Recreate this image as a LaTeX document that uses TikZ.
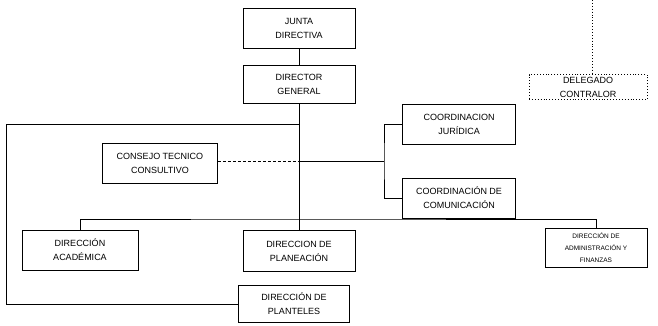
\documentclass[tikz,border=0pt]{standalone}
\usepackage{fontspec}
\setmainfont{Liberation Sans}
\usepackage{tikz}
\usetikzlibrary{positioning}

\begin{document}
\begin{tikzpicture}[x=1pt, y=-1pt,
  box/.style={draw, line width=0.8pt, minimum width=112pt, minimum height=40pt, font=\fontsize{9}{14}\selectfont, align=center, inner sep=1pt},
  ln/.style={line width=0.8pt},
  dsh/.style={line width=0.8pt, dash pattern=on 3pt off 2pt},
  dot/.style={line width=0.9pt, dotted}]
  \useasboundingbox (0,0) rectangle (658,325);
  \node[box] (junta) at (299,28)    {JUNTA\\DIRECTIVA};
  \node[box, minimum height=38pt] (dg) at (299,84) {DIRECTOR\\GENERAL};
  \node[box, minimum width=115pt] (consejo) at (160,163) {CONSEJO TECNICO\\CONSULTIVO};
  \node[box, minimum width=113pt] (jur) at (459,124) {COORDINACION\\JURÍDICA};
  \node[box, minimum width=113pt] (com) at (459,198) {COORDINACIÓN DE\\COMUNICACIÓN};
  \node[box, minimum width=116pt] (acad) at (80,250)  {DIRECCIÓN\\ACADÉMICA};
  \node[box, minimum height=41pt] (plan) at (299,251) {DIRECCION DE\\PLANEACIÓN};
  \node[box, minimum width=111pt, minimum height=37pt] (plant) at (294,304) {DIRECCIÓN DE\\PLANTELES};
  \node[box, minimum width=102pt, minimum height=39pt, font=\fontsize{6.5}{12}\selectfont] (adm) at (596,248) {DIRECCIÓN DE\\ADMINISTRACIÓN Y\\FINANZAS};
  \node[box, dot, minimum width=118pt, minimum height=25pt] (deleg) at (588,87) {DELEGADO\\CONTRALOR};
  \coordinate (dtop) at (592,0);
  \coordinate (brk) at (384,161);
  \coordinate (bar) at (0,219);
  \draw[ln] (junta) -- (dg);
  \draw[ln] (dg.south) -- (plan.north);
  \draw[ln] (dg.south |- 0,124) -| (6,124) |- (plant.west);
  \draw[dsh] (consejo.east |- brk) -- (dg.south |- brk);
  \draw[ln] (dg.south |- brk) -- (brk);
  \draw[ln] (jur.west) -| (brk) |- (com.west);
  \draw[ln] (acad.north) |- (bar -| dg.south) -| (adm.north);
  \draw[dot] (dtop) -- (dtop |- deleg.north);
\end{tikzpicture}
\end{document}
